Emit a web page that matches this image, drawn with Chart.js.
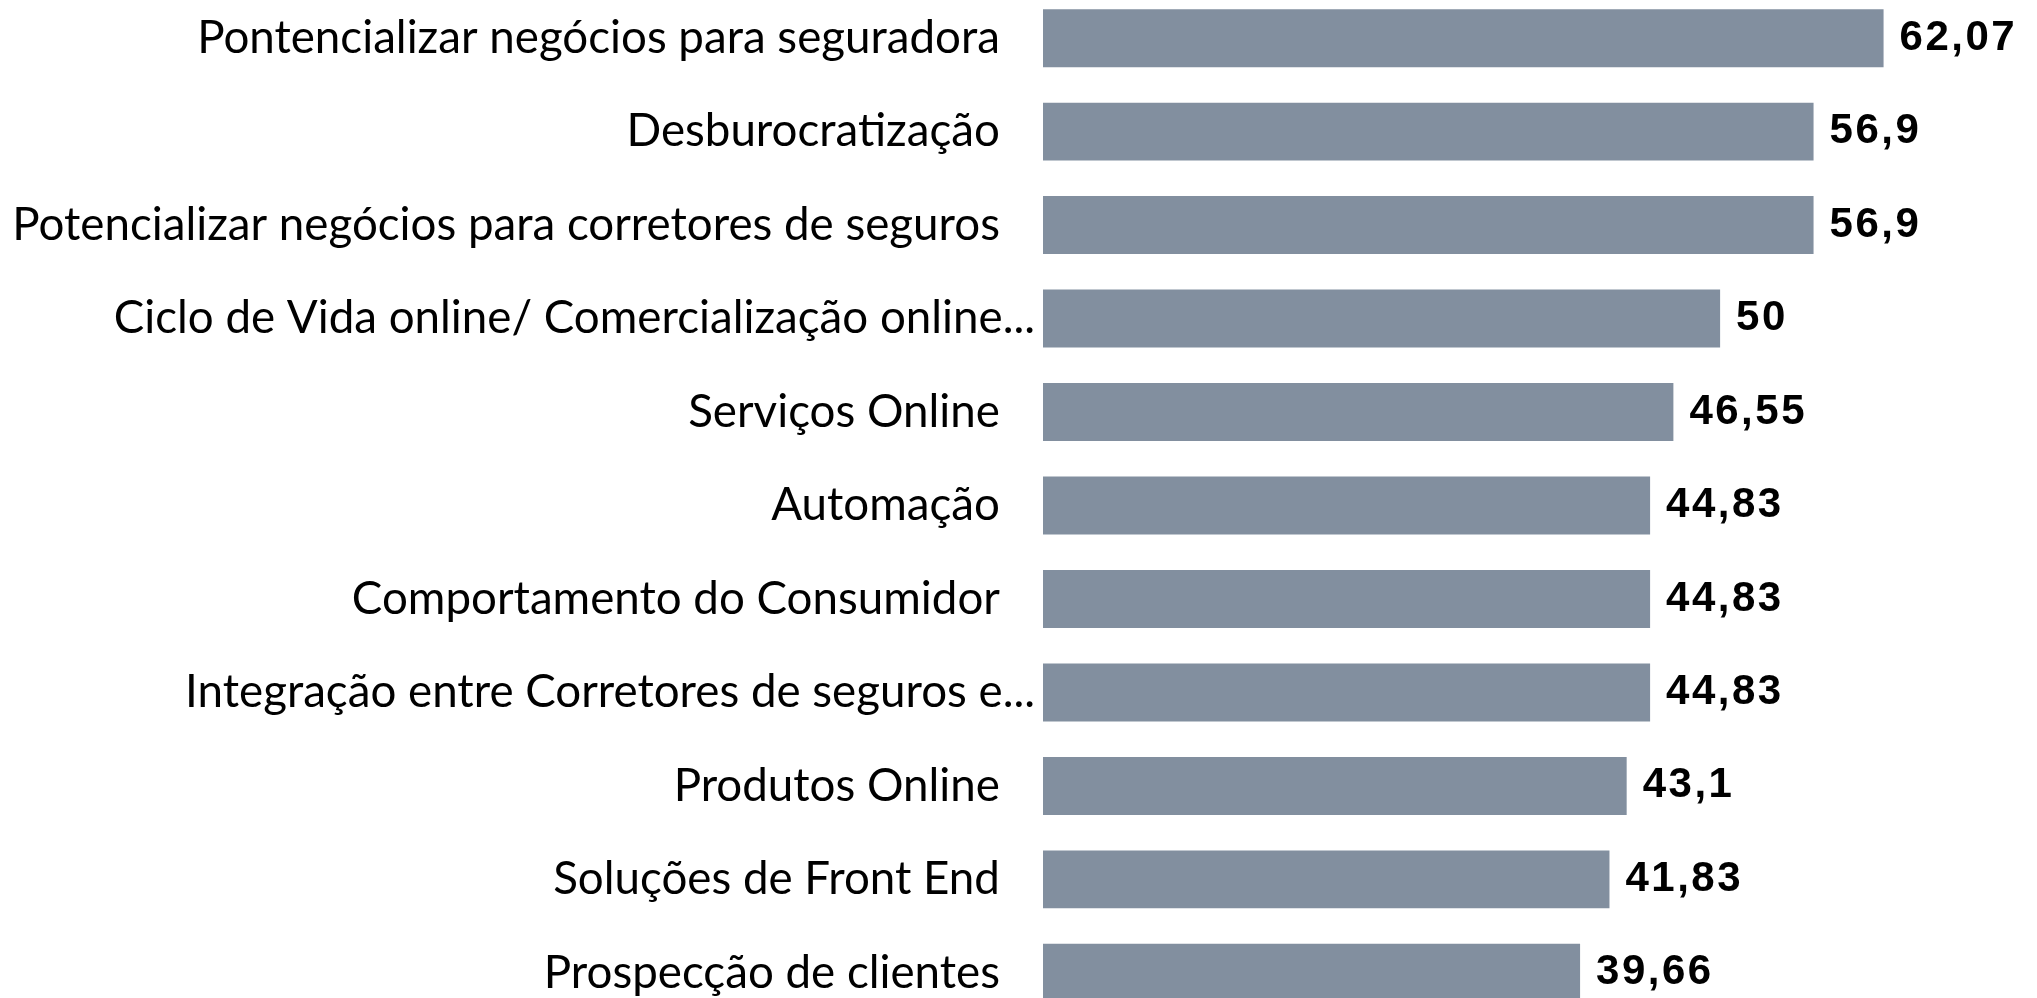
<!DOCTYPE html>
<html>
<head>
<meta charset="utf-8">
<script src="https://cdn.jsdelivr.net/npm/chart.js@4/dist/chart.umd.min.js"></script>
<style>
    html, body { margin: 0; padding: 0; background: #fff; overflow: hidden; width: 2037px; height: 998px; }
    #topicsChart { position: absolute; left: 0; top: -44px; }
</style>
</head>
<body>
<canvas id="topicsChart" width="2037" height="1099"></canvas>
<script>
// Data (percent of answers, sorted high -> low)
const categories = [
    'Pontencializar negócios para seguradora',
    'Desburocratização',
    'Potencializar negócios para corretores de seguros',
    'Ciclo de Vida online/ Comercialização online...',
    'Serviços Online',
    'Automação',
    'Comportamento do Consumidor',
    'Integração entre Corretores de seguros e...',
    'Produtos Online',
    'Soluções de Front End',
    'Prospecção de clientes'
];
const values = [62.07, 56.9, 56.9, 50, 46.55, 44.83, 44.83, 44.83, 43.1, 41.83, 39.66];

const BAR_COLOR = '#828f9f';
const LABEL_FONT = { family: 'Lato', size: 45.7 };
const VALUE_FONT = 'bold 42px "Liberation Sans"';

// Truncated labels ("...") run closer to the bars than the others
const measureCtx = document.createElement('canvas').getContext('2d');
measureCtx.font = `${LABEL_FONT.size}px ${LABEL_FONT.family}`;
const spaceWidth = measureCtx.measureText(' ').width || 10;
const labelShift = ' '.repeat(Math.round(39 / spaceWidth));

/**
 * Write the value next to the end of each bar
 */
const valueLabels = {
    id: 'valueLabels',
    afterDatasetsDraw(chart) {
        const ctx = chart.ctx;
        const meta = chart.getDatasetMeta(0);
        ctx.save();
        ctx.font = VALUE_FONT;
        ctx.letterSpacing = '2.5px';
        ctx.fillStyle = '#000';
        ctx.textAlign = 'left';
        ctx.textBaseline = 'middle';
        meta.data.forEach((bar, i) => {
            const text = String(values[i]).replace('.', ',');
            ctx.fillText(text, bar.x + 16, bar.y);
        });
        ctx.restore();
    }
};

const ctx = document.getElementById('topicsChart').getContext('2d');

new Chart(ctx, {
    type: 'bar',
    data: {
        labels: categories,
        datasets: [{
            data: values,
            backgroundColor: BAR_COLOR,
            borderWidth: 0,
            barPercentage: 0.62,
            categoryPercentage: 1
        }]
    },
    options: {
        indexAxis: 'y',
        responsive: false,
        animation: false,
        devicePixelRatio: 1,
        layout: { padding: 0 },
        plugins: {
            legend: { display: false },
            tooltip: { enabled: false }
        },
        scales: {
            x: {
                display: false,
                min: 0,
                max: 73.4
            },
            y: {
                grid: { display: false, drawTicks: false },
                border: { display: false },
                afterFit: function (scale) {
                    scale.width = 1043;
                },
                ticks: {
                    color: '#000',
                    padding: 8,
                    font: LABEL_FONT,
                    autoSkip: false,
                    callback: function (value) {
                        const label = this.getLabelForValue(value);
                        return label.endsWith('...') ? label : label + labelShift;
                    }
                }
            }
        }
    },
    plugins: [valueLabels]
});
</script>
</body>
</html>
